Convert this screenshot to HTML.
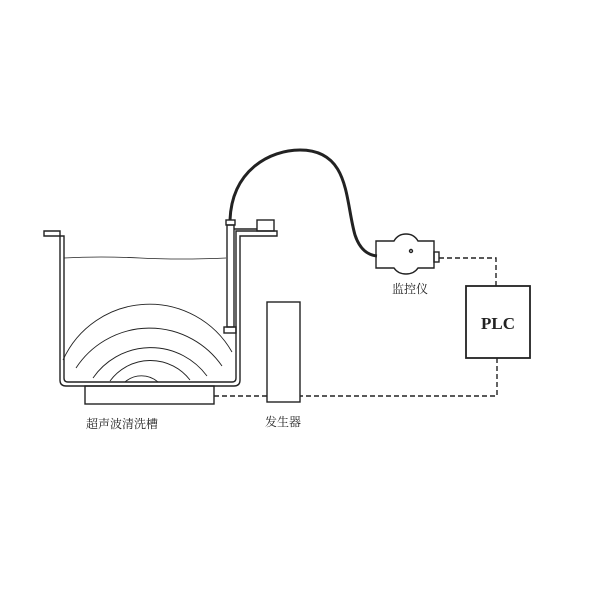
<!DOCTYPE html>
<html><head><meta charset="utf-8"><style>
body{margin:0;background:#fff}
svg{display:block}
text{font-family:"Liberation Serif","Noto Serif CJK SC",serif;fill:#222}
</style></head><body>
<svg width="600" height="600" viewBox="0 0 600 600" xmlns="http://www.w3.org/2000/svg">
<g fill="none" stroke="#222" stroke-width="1.4">
<path d="M44 231 H60 V380 Q60 386 66 386 H234 Q240 386 240 380 V236 H277 V231 H236 V378 Q236 382 232 382 H68 Q64 382 64 378 V236 H44 Z"/>
<path d="M64 258 Q100 256 140 258 T226 258" stroke-width="0.8"/>
<rect x="85" y="386" width="129" height="18"/>
<g stroke-width="0.9">
<path d="M63 360 A95 95 0 0 1 232 352"/>
<path d="M76 368 A88 88 0 0 1 222 366"/>
<path d="M93 378 A70 70 0 0 1 207 376"/>
<path d="M110 381 A50 50 0 0 1 190 380"/>
<path d="M125 382 A25 25 0 0 1 158 382"/>
</g>
<rect x="227" y="225" width="7" height="102"/>
<rect x="224" y="327" width="12" height="6"/>
<rect x="226" y="220" width="9" height="5"/>
<rect x="257" y="220" width="17" height="11"/>
<line x1="234" y1="229" x2="257" y2="229"/>
<path d="M230 220 C232 170 270 150 300 150 C350 150 345 200 355 235 C360 250 368 255 377 256" stroke-width="3"/>
<path d="M376 241 H394 Q398 234 406 234 Q414 234 418 241 H434 V268 H418 Q414 274 406 274 Q398 274 394 268 H376 Z"/>
<circle cx="411" cy="251" r="1.5"/>
<rect x="434" y="252" width="5" height="10"/>
<rect x="267" y="302" width="33" height="100"/>
<rect x="466" y="286" width="64" height="72" stroke-width="1.8"/>
<g stroke-dasharray="5,3">
<path d="M439 258 H496 V286"/>
<path d="M497 358 V396 H300"/>
<path d="M214 396 H267"/>
</g>
</g>
<text x="122" y="428" font-size="12" text-anchor="middle">超声波清洗槽</text>
<text x="283" y="426" font-size="12" text-anchor="middle">发生器</text>
<text x="410" y="293" font-size="12" text-anchor="middle">监控仪</text>
<text x="498" y="329" font-size="17" text-anchor="middle" font-weight="bold">PLC</text>
</svg>
</body></html>
